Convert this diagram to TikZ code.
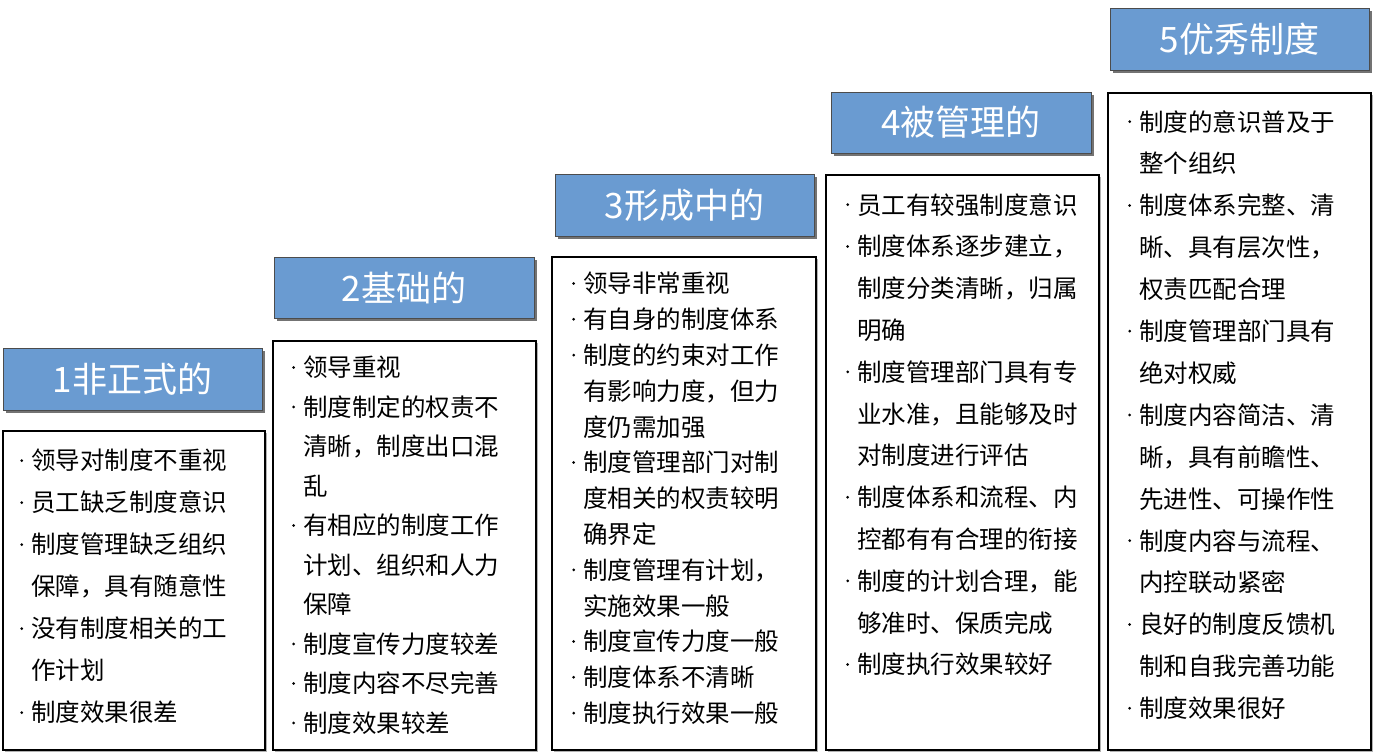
\documentclass[tikz,border=0pt]{standalone}
\usepackage{fontspec}
\setmainfont{Noto Sans CJK SC}
\usetikzlibrary{shadows}
\newcommand{\bl}{\makebox[12pt][l]{\hspace*{1pt}\raisebox{0.32em}{\tikz\fill[black] (0,0) circle (1.5pt);}}}
\newcommand{\ct}{\hspace*{12pt}}
\tikzset{
 hdr/.style={draw=black!70, line width=0.8pt, fill={rgb,255:red,106;green,155;blue,209}, text=white, font=\fontsize{35}{35}\selectfont, inner sep=0pt,
   drop shadow={shadow xshift=3pt, shadow yshift=-3pt, fill=black!55, opacity=1}},
 bodybox/.style={draw=black, line width=1.5pt, fill=white, drop shadow={shadow xshift=2pt, shadow yshift=-2pt, fill=black!30, opacity=1}},
 bodytxt/.style={anchor=north west, align=left, inner sep=0pt, font=\fontsize{24.5}{#1}\selectfont}
}
\begin{document}
\begin{tikzpicture}[x=1pt,y=-1pt]
\useasboundingbox (0,0) rectangle (1375,753);
% column 1
\draw[bodybox] (3,431) rectangle (265,750);
\node[hdr, minimum width=259pt, minimum height=62pt] (h1) at (132.5,379) {1非正式的};
\node[bodytxt=42pt] (b1) at (19,449) {\bl 领导对制度不重视\\ \bl 员工缺乏制度意识\\ \bl 制度管理缺乏组织\\ \ct 保障，具有随意性\\ \bl 没有制度相关的工\\ \ct 作计划\\ \bl 制度效果很差};
% column 2
\draw[bodybox] (273,341) rectangle (536,750);
\node[hdr, minimum width=260pt, minimum height=61pt] (h2) at (404,287.5) {2基础的};
\node[bodytxt=39.5pt] (b2) at (291,356) {\bl 领导重视\\ \bl 制度制定的权责不\\ \ct 清晰，制度出口混\\ \ct 乱\\ \bl 有相应的制度工作\\ \ct 计划、组织和人力\\ \ct 保障\\ \bl 制度宣传力度较差\\ \bl 制度内容不尽完善\\ \bl 制度效果较差};
% column 3
\draw[bodybox] (552,257) rectangle (816,750);
\node[hdr, minimum width=259pt, minimum height=62pt] (h3) at (684.5,205) {3形成中的};
\node[bodytxt=35.8pt] (b3) at (571,272) {\bl 领导非常重视\\ \bl 有自身的制度体系\\ \bl 制度的约束对工作\\ \ct 有影响力度，但力\\ \ct 度仍需加强\\ \bl 制度管理部门对制\\ \ct 度相关的权责较明\\ \ct 确界定\\ \bl 制度管理有计划，\\ \ct 实施效果一般\\ \bl 制度宣传力度一般\\ \bl 制度体系不清晰\\ \bl 制度执行效果一般};
% column 4
\draw[bodybox] (826,175) rectangle (1099,750);
\node[hdr, minimum width=260pt, minimum height=61pt] (h4) at (961,122.5) {4被管理的};
\node[bodytxt=41.8pt] (b4) at (845,193) {\bl 员工有较强制度意识\\ \bl 制度体系逐步建立，\\ \ct 制度分类清晰，归属\\ \ct 明确\\ \bl 制度管理部门具有专\\ \ct 业水准，且能够及时\\ \ct 对制度进行评估\\ \bl 制度体系和流程、内\\ \ct 控都有有合理的衔接\\ \bl 制度的计划合理，能\\ \ct 够准时、保质完成\\ \bl 制度执行效果较好};
% column 5
\draw[bodybox] (1108,93) rectangle (1371,750);
\node[hdr, minimum width=259pt, minimum height=62pt] (h5) at (1239.5,39) {5优秀制度};
\node[bodytxt=41.9pt] (b5) at (1127,110) {\bl 制度的意识普及于\\ \ct 整个组织\\ \bl 制度体系完整、清\\ \ct 晰、具有层次性，\\ \ct 权责匹配合理\\ \bl 制度管理部门具有\\ \ct 绝对权威\\ \bl 制度内容简洁、清\\ \ct 晰，具有前瞻性、\\ \ct 先进性、可操作性\\ \bl 制度内容与流程、\\ \ct 内控联动紧密\\ \bl 良好的制度反馈机\\ \ct 制和自我完善功能\\ \bl 制度效果很好};
\end{tikzpicture}
\end{document}
